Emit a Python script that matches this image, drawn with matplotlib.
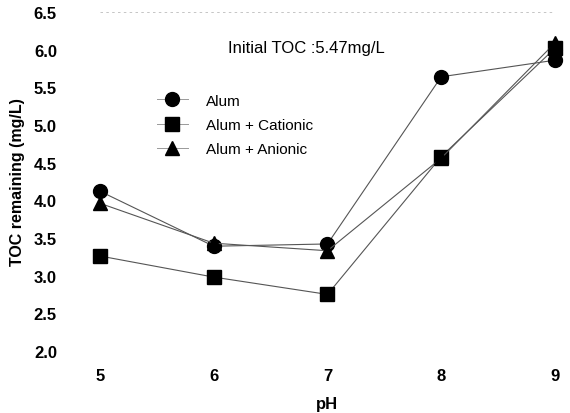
import matplotlib
matplotlib.use("Agg")
import matplotlib.pyplot as plt
from matplotlib.lines import Line2D

plt.rcParams['font.family'] = ['Liberation Sans', 'DejaVu Sans']

ph = [5, 6, 7, 8, 9]
alum = [4.12, 3.39, 3.42, 5.64, 5.86]
cationic = [3.26, 2.98, 2.75, 4.58, 6.02]
anionic = [3.96, 3.43, 3.33, 4.56, 6.09]
labels = ["Alum", "Alum + Cationic", "Alum + Anionic"]
yticks = [2.0, 2.5, 3.0, 3.5, 4.0, 4.5, 5.0, 5.5, 6.0, 6.5]

fig = plt.figure(figsize=(5.7, 4.14), dpi=100)
ax = fig.add_axes([0.1754, 0.150, 0.7983, 0.8186])

series = [(alum, 'o', 10), (cationic, 's', 10), (anionic, '^', 10)]
handles = []
for (vals, m, ms), lab in zip(series, labels):
    ax.plot(ph, vals, color='#555555', lw=0.8, marker=m, ms=ms,
            mfc='black', mec='black', clip_on=False, zorder=3)
    handles.append(Line2D([0], [0], color='#999999', lw=0.7, marker=m, ms=ms,
                          mfc='black', mec='black'))

ax.set_xlim(5, 9)
ax.set_ylim(2.0, 6.5)
ax.set_xticks(ph)
ax.set_yticks(yticks)
ax.set_yticklabels([f"{v:.1f}" for v in yticks])
for s in ax.spines.values():
    s.set_visible(False)
ax.axhline(6.5, color='#bbbbbb', lw=0.6, ls=(0, (3, 4)))
ax.axhline(2.0, color='#bbbbbb', lw=0.6, ls=(0, (3, 4)))
ax.tick_params(axis='both', length=0, labelsize=12)
ax.tick_params(axis='y', pad=31)
ax.tick_params(axis='x', pad=12)
for t in ax.get_xticklabels() + ax.get_yticklabels():
    t.set_fontweight('bold')

ax.set_xlabel("pH", fontsize=12, fontweight='bold', labelpad=10)
ax.set_ylabel("TOC remaining (mg/L)", fontsize=11.5, fontweight='bold', labelpad=6)

ax.text(0.282, 0.895, "Initial TOC :5.47mg/L", transform=ax.transAxes,
        fontsize=12, ha='left', va='center')

leg = ax.legend(handles, labels, loc='upper left', bbox_to_anchor=(0.095, 0.80),
                frameon=False, fontsize=11, handlelength=2.0,
                labelspacing=0.68, handletextpad=1.2)

fig.savefig("out.png", dpi=100)
